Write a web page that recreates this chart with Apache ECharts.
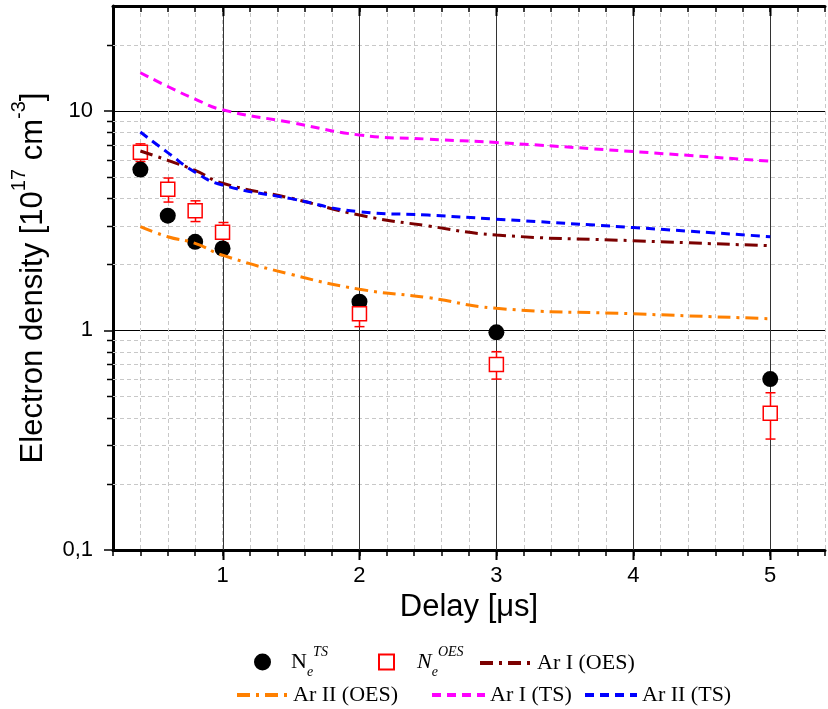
<!DOCTYPE html>
<html>
<head>
<meta charset="utf-8">
<script src="https://cdn.jsdelivr.net/npm/echarts@6/dist/echarts.min.js"></script>
<style>
  html, body { margin: 0; padding: 0; background: #fff; }
  #main { width: 828px; height: 709px; }
</style>
</head>
<body>
<div id="main"></div>
<script>
// axis setup
var X_MIN = 0.2, X_MAX = 5.4;
var Y_MIN = 0.1, Y_MAX = 30;
var X_MAJOR = [1, 2, 3, 4, 5];
var Y_MINOR = [0.2, 0.3, 0.4, 0.5, 0.6, 0.7, 0.8, 0.9, 2, 3, 4, 5, 6, 7, 8, 9, 20];

// measured points
var TS_X = [0.4, 0.6, 0.8, 1, 2, 3, 5];
var TS_Y = [5.4, 3.33, 2.53, 2.36, 1.35, 0.98, 0.6];
var OES_X = [0.4, 0.6, 0.8, 1, 2, 3, 5];
var OES_Y = [6.47, 4.39, 3.51, 2.8, 1.19, 0.7, 0.42];
var OES_ERR = [0.6, 0.55, 0.38, 0.3, 0.15, 0.1, 0.1];

// model curves
var CURVE_X = [0.4, 0.6, 0.8, 1, 1.5, 2, 2.5, 3, 4, 5];
var ARI_OES = [6.56, 5.95, 5.35, 4.68, 4.0, 3.35, 2.99, 2.72, 2.56, 2.43];
var ARII_OES = [2.97, 2.67, 2.49, 2.2, 1.8, 1.54, 1.41, 1.26, 1.19, 1.13];
var ARI_TS = [14.9, 12.9, 11.3, 10.1, 8.84, 7.76, 7.43, 7.17, 6.52, 5.89];
var ARII_TS = [8.0, 6.45, 5.25, 4.59, 3.98, 3.47, 3.35, 3.21, 2.94, 2.67];

function pairs(xs, ys) {
  return xs.map(function (x, i) { return [x, ys[i]]; });
}

var chart = echarts.init(document.getElementById('main'));

var serif = '"Liberation Serif", "Times New Roman", serif';
var sans = '"Liberation Sans", Arial, sans-serif';
var narrow = '"Liberation Sans Narrow", "Liberation Sans", Arial, sans-serif';

// minor grid lines and ticks of the log axis
function minorYItem(params, api) {
  var cs = params.coordSys;
  var y = Math.round(api.coord([X_MIN, api.value(1)])[1]) + 0.5;
  return {
    type: 'group',
    children: [
      { type: 'line', shape: { x1: cs.x, y1: y, x2: cs.x + cs.width, y2: y },
        style: { stroke: '#c8c8c8', lineWidth: 1, lineDash: [4, 3] } },
      { type: 'line', shape: { x1: cs.x - 6, y1: y, x2: cs.x, y2: y },
        style: { stroke: '#000', lineWidth: 1.5 } }
    ]
  };
}

// major vertical grid lines + long ticks
function majorXItem(params, api) {
  var cs = params.coordSys;
  var x = Math.round(api.coord([api.value(0), Y_MIN])[0]) + 0.5;
  var bottom = cs.y + cs.height;
  return {
    type: 'group',
    children: [
      { type: 'line', shape: { x1: x, y1: cs.y, x2: x, y2: bottom },
        style: { stroke: '#333', lineWidth: 1 } },
      { type: 'line', shape: { x1: x, y1: bottom, x2: x, y2: bottom + 10 },
        style: { stroke: '#000', lineWidth: 2 } },
      { type: 'line', shape: { x1: x, y1: cs.y, x2: x, y2: cs.y + 10 },
        style: { stroke: '#000', lineWidth: 2 } }
    ]
  };
}

function errItem(params, api) {
  var x = api.value(0);
  var lo = api.coord([x, api.value(1)]);
  var hi = api.coord([x, api.value(2)]);
  var px = Math.round(lo[0]) + 0.5;
  var cap = 5;
  var st = { stroke: '#ff0000', lineWidth: 1.5 };
  return {
    type: 'group',
    children: [
      { type: 'line', shape: { x1: px, y1: lo[1], x2: px, y2: hi[1] }, style: st },
      { type: 'line', shape: { x1: px - cap, y1: lo[1], x2: px + cap, y2: lo[1] }, style: st },
      { type: 'line', shape: { x1: px - cap, y1: hi[1], x2: px + cap, y2: hi[1] }, style: st }
    ]
  };
}

var legendRich = {
  n: { fontFamily: serif, fontSize: 22, color: '#000', lineHeight: 34, verticalAlign: 'middle' },
  ni: { fontFamily: serif, fontSize: 22, fontStyle: 'italic', color: '#000', lineHeight: 34, verticalAlign: 'middle' },
  sub: { fontFamily: serif, fontSize: 14, fontStyle: 'italic', color: '#000', lineHeight: 14, verticalAlign: 'bottom' },
  sup: { fontFamily: serif, fontSize: 14, fontStyle: 'italic', color: '#000', lineHeight: 14, verticalAlign: 'top' }
};
var legendLabels = {
  'NeTS': '{n|N}{sub|e}{sup|TS}',
  'NeOES': '{ni|N}{sub|e}{sup|OES}'
};

function legendItem(name, left, top, w, h, gap, isLine) {
  var lg = {
    data: [name],
    left: left,
    top: top,
    padding: 0,
    itemWidth: w,
    itemHeight: h,
    selectedMode: false,
    lineStyle: { width: 4 },
    formatter: function (nm) { return legendLabels[nm] || nm; },
    textStyle: { fontFamily: serif, fontSize: 22, color: '#000', rich: legendRich, padding: [0, 0, 0, gap] }
  };
  if (isLine) lg.itemStyle = { opacity: 0 };
  return lg;
}

var option = {
  animation: false,
  backgroundColor: '#fff',
  grid: { left: 113, top: 6, right: 3, bottom: 159 },
  legend: [
    legendItem('NeTS', 254, 645, 17, 17, 15, false),
    legendItem('NeOES', 378, 645, 15, 15, 18, false),
    legendItem('Ar I (OES)', 478, 652, 50, 14, 2, true),
    legendItem('Ar II (OES)', 235, 684, 50, 14, 1, true),
    legendItem('Ar I (TS)', 430, 684, 53, 14, 0, true),
    legendItem('Ar II (TS)', 583, 684, 52, 14, 0, true)
  ],
  xAxis: [
    {
      type: 'value',
      min: X_MIN, max: X_MAX, interval: 0.2,
      position: 'bottom',
      name: 'Delay [μs]',
      nameLocation: 'middle',
      nameGap: 40,
      nameTextStyle: { fontFamily: sans, fontSize: 31, color: '#000' },
      axisLine: { show: true, onZero: false, lineStyle: { color: '#000', width: 3 } },
      axisTick: { show: true, inside: false, length: 6, lineStyle: { color: '#000', width: 1.5 } },
      axisLabel: {
        interval: 0,
        margin: 15,
        fontFamily: narrow, fontSize: 22, color: '#000',
        formatter: function (v) {
          return Math.abs(v - Math.round(v)) < 1e-6 ? String(Math.round(v)) : '';
        }
      },
      splitLine: { show: true, lineStyle: { color: '#c8c8c8', width: 1, type: [4, 3] } }
    },
    {
      type: 'value',
      min: X_MIN, max: X_MAX, interval: 0.2,
      position: 'top',
      axisLine: { show: true, onZero: false, lineStyle: { color: '#000', width: 3 } },
      axisTick: { show: true, inside: true, length: 6, lineStyle: { color: '#000', width: 1.5 } },
      axisLabel: { show: false },
      splitLine: { show: false }
    }
  ],
  yAxis: {
    type: 'log',
    logBase: 10,
    min: Y_MIN, max: Y_MAX,
    name: '{t|Electron density [10}{s|17}{t| cm}{s|-3}{t|]}',
    nameLocation: 'middle',
    nameGap: 64,
    nameTextStyle: {
      rich: {
        t: { fontFamily: sans, fontSize: 31, color: '#000', lineHeight: 40, verticalAlign: 'bottom' },
        s: { fontFamily: sans, fontSize: 20, color: '#000', lineHeight: 20, verticalAlign: 'top' }
      }
    },
    axisLine: { show: true, onZero: false, lineStyle: { color: '#000', width: 3 } },
    axisTick: { show: true, inside: false, length: 9, lineStyle: { color: '#000', width: 1.5 } },
    axisLabel: {
      margin: 20,
      showMaxLabel: false,
      fontFamily: narrow, fontSize: 22, color: '#000',
      formatter: function (v) {
        return v < 1 ? String(v).replace('.', ',') : String(v);
      }
    },
    splitLine: { show: true, lineStyle: { color: '#000', width: 1 } }
  },
  series: [
    {
      name: 'minorY',
      type: 'custom',
      z: 1,
      silent: true,
      renderItem: minorYItem,
      data: Y_MINOR.map(function (v) { return [X_MIN, v]; })
    },
    {
      name: 'majorX',
      type: 'custom',
      z: 1,
      silent: true,
      renderItem: majorXItem,
      data: X_MAJOR.map(function (v) { return [v, Y_MIN]; })
    },
    {
      name: 'NeTS',
      type: 'scatter',
      z: 3,
      symbol: 'circle',
      symbolSize: 16,
      itemStyle: { color: '#000', opacity: 1 },
      data: pairs(TS_X, TS_Y)
    },
    {
      name: 'oesErr',
      type: 'custom',
      z: 3,
      renderItem: errItem,
      encode: { x: 0, y: [1, 2] },
      data: OES_X.map(function (x, i) { return [x, OES_Y[i] - OES_ERR[i], OES_Y[i] + OES_ERR[i]]; })
    },
    {
      name: 'NeOES',
      type: 'scatter',
      z: 4,
      symbol: 'rect',
      symbolSize: 14,
      itemStyle: { color: '#fff', borderColor: '#ff0000', borderWidth: 1.5, opacity: 1 },
      data: pairs(OES_X, OES_Y)
    },
    {
      name: 'Ar I (OES)',
      type: 'line',
      z: 5,
      smooth: true,
      symbol: 'none',
      color: '#7b0000',
      lineStyle: { color: '#7b0000', width: 3, type: [13, 6, 3, 6] },
      data: pairs(CURVE_X, ARI_OES)
    },
    {
      name: 'Ar II (OES)',
      type: 'line',
      z: 5,
      smooth: true,
      symbol: 'none',
      color: '#ff8000',
      lineStyle: { color: '#ff8000', width: 3, type: [13, 6, 3, 6] },
      data: pairs(CURVE_X, ARII_OES)
    },
    {
      name: 'Ar I (TS)',
      type: 'line',
      z: 5,
      smooth: true,
      symbol: 'none',
      color: '#ff00ff',
      lineStyle: { color: '#ff00ff', width: 3, type: [9, 6] },
      data: pairs(CURVE_X, ARI_TS)
    },
    {
      name: 'Ar II (TS)',
      type: 'line',
      z: 5,
      smooth: true,
      symbol: 'none',
      color: '#0000ff',
      lineStyle: { color: '#0000ff', width: 3, type: [9, 6] },
      data: pairs(CURVE_X, ARII_TS)
    }
  ]
};

chart.setOption(option);
</script>
</body>
</html>
